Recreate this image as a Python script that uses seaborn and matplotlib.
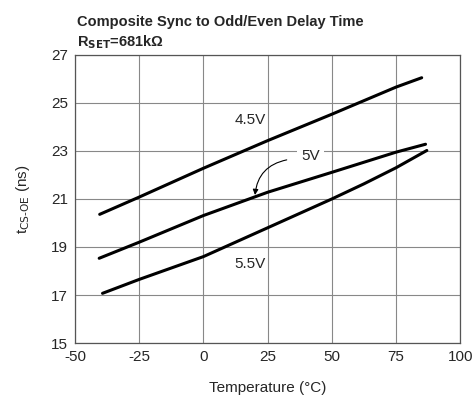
import numpy as np
import pandas as pd
import matplotlib
matplotlib.use("Agg")
import matplotlib.pyplot as plt
import seaborn as sns

t45 = [-40.4, -25, 0, 25, 50, 75, 85]
v45 = [20.36, 21.08, 22.28, 23.43, 24.53, 25.66, 26.05]
t50 = [-40.6, -25, 0, 25, 50, 75, 86.5]
v50 = [18.53, 19.2, 20.31, 21.28, 22.11, 22.95, 23.28]
t55 = [-39.3, -25, 0, 25, 50, 62.5, 75, 87]
v55 = [17.07, 17.65, 18.6, 19.8, 21.0, 21.63, 22.3, 23.02]
series_labels = ["4.5V", "5V", "5.5V"]
x_ticks = [-50, -25, 0, 25, 50, 75, 100]
y_ticks = [15, 17, 19, 21, 23, 25, 27]

df = pd.DataFrame({
    "Temperature": t45 + t50 + t55,
    "Delay": v45 + v50 + v55,
    "Supply": [series_labels[0]] * len(t45) + [series_labels[1]] * len(t50) + [series_labels[2]] * len(t55),
})

sns.set_theme(style="white")
plt.rcParams["font.family"] = ["Liberation Sans", "DejaVu Sans"]

fig = plt.figure(figsize=(4.72, 4.01), dpi=100)
ax = fig.add_axes([0.159, 0.1446, 0.816, 0.7184])

sns.lineplot(data=df, x="Temperature", y="Delay", hue="Supply",
             palette=["black"] * 3, linewidth=2.2, legend=False, ax=ax,
             sort=True, estimator=None)

ax.set_xlim(-50, 100)
ax.set_ylim(15, 27)
ax.set_xticks(x_ticks)
ax.set_yticks(y_ticks)
ax.set_xticklabels([str(t) for t in x_ticks], fontsize=11)
ax.set_yticklabels([str(t) for t in y_ticks], fontsize=11)
ax.tick_params(length=0, pad=5)
ax.grid(True, color="#888888", linewidth=0.8)
for s in ax.spines.values():
    s.set_color("#555555")
    s.set_linewidth(0.9)

ax.set_xlabel("Temperature (°C)", fontsize=11, labelpad=12)
ax.set_ylabel("t$_{\\mathrm{CS\\text{-}OE}}$ (ns)", fontsize=11, labelpad=14)

ax.text(18.2, 24.3, "4.5V", fontsize=11, ha="center", va="center",
        bbox=dict(facecolor="white", edgecolor="none", pad=1))
ax.text(41.6, 22.8, "5V", fontsize=11, ha="center", va="center",
        bbox=dict(facecolor="white", edgecolor="none", pad=3))
ax.text(18.0, 18.3, "5.5V", fontsize=11, ha="center", va="center",
        bbox=dict(facecolor="white", edgecolor="none", pad=1))
ax.annotate("", xy=(20.0, 21.05), xytext=(33.5, 22.65),
            arrowprops=dict(arrowstyle="-|>", color="black", lw=0.8,
                            connectionstyle="arc3,rad=0.4", mutation_scale=8))

fig.text(0.163, 0.945, "Composite Sync to Odd/Even Delay Time", fontsize=10.5,
         fontweight="bold", ha="left", va="center")
fig.text(0.163, 0.895, "R$_{\\mathbf{SET}}$=681k\u03a9", fontsize=10.5,
         fontweight="bold", ha="left", va="center")

fig.savefig("out.png", dpi=100)
